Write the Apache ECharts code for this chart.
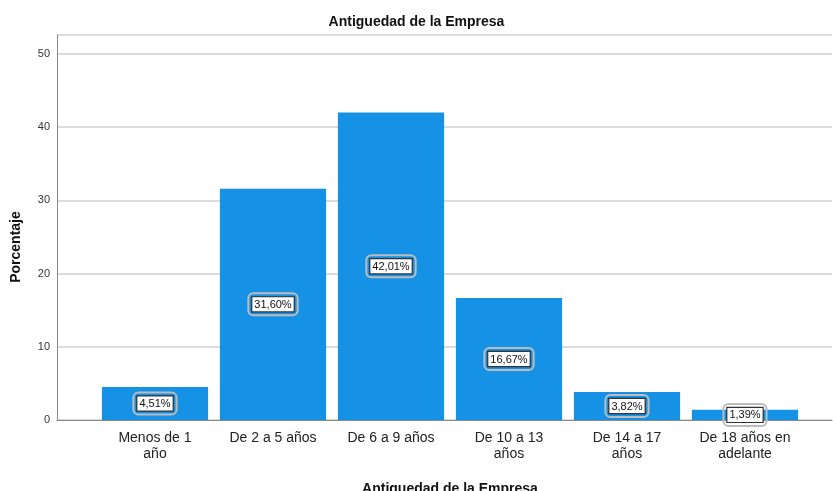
<!DOCTYPE html>
<html>
<head>
<meta charset="utf-8">
<script src="https://cdn.jsdelivr.net/npm/echarts@6/dist/echarts.min.js"></script>
<style>html,body{margin:0;padding:0;background:#fff}#c{width:833px;height:491px}</style>
</head>
<body>
<div id="c"></div>
<script>
var categories = ['Menos de 1\naño', 'De 2 a 5 años', 'De 6 a 9 años', 'De 10 a 13\naños', 'De 14 a 17\naños', 'De 18 años en\nadelante'];
var values = [4.51, 31.60, 42.01, 16.67, 3.82, 1.39];
var yTicks = [0, 10, 20, 30, 40, 50];
var titleText = 'Antiguedad de la Empresa';
var yName = 'Porcentaje';

var FONT = '"Liberation Sans", Arial, sans-serif';
var YMAX = 52.6;
var chart = echarts.init(document.getElementById('c'));
chart.setOption({
  animation: false,
  title: {
    text: titleText, left: 'center', top: 10,
    textStyle: {fontFamily: FONT, fontSize: 14, fontWeight: 'bold', color: '#111'}
  },
  graphic: [{
    type: 'text', x: 9, y: 247, rotation: Math.PI / 2,
    style: {text: yName, font: 'bold 14px ' + FONT, fill: '#111', align: 'center', verticalAlign: 'top'}
  }],
  grid: [
    {left: 57, right: 1, top: 35, bottom: 71, outerBoundsMode: 'none', containLabel: false},
    {left: 96, right: 29, top: 35, bottom: 71, outerBoundsMode: 'none', containLabel: false}
  ],
  xAxis: [
    {gridIndex: 0, type: 'value', min: 0, max: 1, axisLine: {show: true, lineStyle: {color: '#888', width: 1}},
     axisTick: {show: false}, axisLabel: {show: false}, splitLine: {show: false}},
    {gridIndex: 1, type: 'category', data: categories, axisLine: {show: false}, axisTick: {show: false},
     axisLabel: {interval: 0, fontFamily: FONT, fontSize: 14, color: '#222', lineHeight: 16, margin: 10},
     name: titleText, nameLocation: 'middle', nameGap: 62,
     nameTextStyle: {fontFamily: FONT, fontSize: 14, fontWeight: 'bold', color: '#111'}}
  ],
  yAxis: [
    {gridIndex: 0, type: 'value', min: 0, max: YMAX, interval: 10,
     axisLine: {show: true, lineStyle: {color: '#888', width: 1}}, axisTick: {show: false},
     axisLabel: {fontFamily: FONT, fontSize: 11, color: '#333', margin: 7,
       formatter: function (v) { return yTicks.indexOf(v) >= 0 ? String(v) : ''; }},
     splitLine: {show: true, lineStyle: {color: '#d0d0d0', width: 1.5}}},
    {gridIndex: 1, type: 'value', min: 0, max: YMAX, show: false}
  ],
  series: [{
    type: 'bar', xAxisIndex: 1, yAxisIndex: 1, data: values,
    barCategoryGap: '10%',
    itemStyle: {color: '#1591e6'},
    label: {
      show: true, position: 'inside',
      formatter: function (p) { return '{a|' + p.value.toFixed(2).replace('.', ',') + '%}'; },
      borderColor: '#bcbcbc', borderWidth: 2, borderRadius: 5, padding: [4, 4],
      rich: {
        a: {fontFamily: FONT, fontSize: 11, color: '#111', backgroundColor: '#fff',
            borderColor: '#333', borderWidth: 1.2, padding: [2, 2, 1, 2]}
      }
    }
  }]
});
</script>
</body>
</html>
